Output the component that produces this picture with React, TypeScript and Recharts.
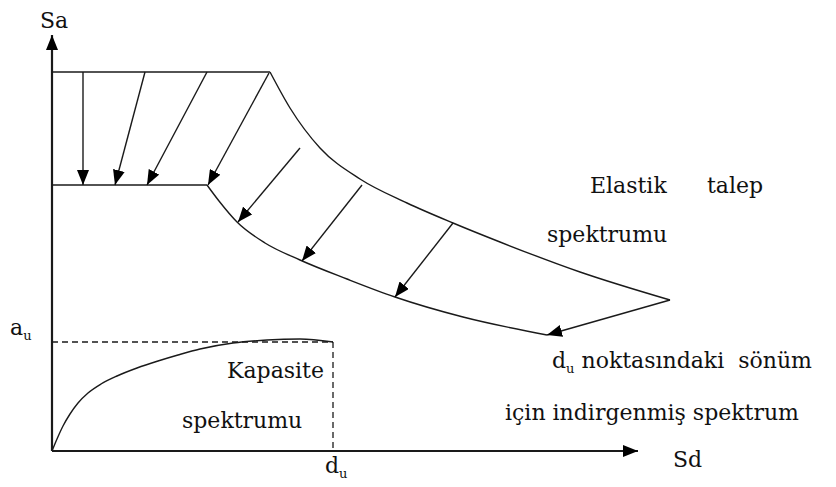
import React from "react";
import { LineChart, Line, XAxis, YAxis, ReferenceDot } from "recharts";

// ---- data (Sd, Sa in arbitrary units) ----
const elasticPlateauSd = [0, 2.18];
const elasticPlateauSa = [3.79, 3.79];
const elasticSd = [2.18, 2.38, 2.68, 3.08, 3.55, 4.01, 4.48, 5.28, 6.18];
const elasticSa = [3.79, 3.43, 3.03, 2.72, 2.48, 2.28, 2.09, 1.79, 1.51];

const reducedPlateauSd = [0, 1.55];
const reducedPlateauSa = [2.66, 2.66];
const reducedSd = [1.55, 1.67, 1.85, 2.13, 2.48, 2.95, 3.43, 4.11, 4.95];
const reducedSa = [2.66, 2.5, 2.29, 2.08, 1.91, 1.72, 1.54, 1.34, 1.16];

const capacitySd = [0, 0.05, 0.11, 0.18, 0.26, 0.36, 0.49, 0.65, 0.85, 1.06, 1.26, 1.48, 1.81, 2.15, 2.48, 2.81];
const capacitySa = [0, 0.12, 0.25, 0.37, 0.48, 0.58, 0.67, 0.75, 0.83, 0.9, 0.96, 1.02, 1.08, 1.11, 1.12, 1.09];

const du = 2.81;
const au = 1.09;

const arrowFromSd = [0.31, 0.93, 1.55, 2.17, 2.48, 3.1, 4.01, 6.18];
const arrowFromSa = [3.79, 3.79, 3.79, 3.78, 3.03, 2.66, 2.28, 1.51];
const arrowToSd = [0.31, 0.63, 0.95, 1.56, 1.86, 2.5, 3.43, 4.95];
const arrowToSa = [2.66, 2.66, 2.66, 2.66, 2.29, 1.9, 1.54, 1.16];

const axisEndSd = 5.86;
const axisEndSa = 4.16;

const X_DOMAIN: [number, number] = [-0.52, 7.84];
const Y_DOMAIN: [number, number] = [-0.36, 4.51];

const pts = (xs: number[], ys: number[]) => xs.map((x, i) => ({ x, y: ys[i] }));

const INK = "#1a1a1a";
const FONT = "DejaVu Serif";
const FS = 22;

type Lbl = { sd: number; sa: number; text: string; sub?: string; rest?: string };
const labels: Lbl[] = [
  { sd: -0.12, sa: 4.23, text: "Sa" },
  { sd: 5.38, sa: 2.58, text: "Elastik" },
  { sd: 6.55, sa: 2.58, text: "talep" },
  { sd: 4.95, sa: 2.09, text: "spektrumu" },
  { sd: 1.75, sa: 0.73, text: "Kapasite" },
  { sd: 1.3, sa: 0.23, text: "spektrumu" },
  { sd: -0.42, sa: 1.16, text: "a", sub: "u" },
  { sd: 2.73, sa: -0.22, text: "d", sub: "u" },
  { sd: 5.0, sa: 0.83, text: "d", sub: "u", rest: " noktasındaki  sönüm" },
  { sd: 4.53, sa: 0.31, text: "için indirgenmiş spektrum" },
  { sd: 6.21, sa: -0.16, text: "Sd" },
];

const lineProps = {
  dataKey: "y",
  stroke: INK,
  strokeWidth: 1.4,
  dot: false,
  activeDot: false,
  isAnimationActive: false,
  legendType: "none" as const,
};

export default function App() {
  return (
    <div style={{ position: "absolute", left: 0, top: 0, background: "#fff" }}>
      <LineChart width={836} height={487} margin={{ top: 0, right: 0, bottom: 0, left: 0 }}>
        <defs>
          <marker
            id="ah"
            viewBox="0 0 15 12"
            refX="15"
            refY="6"
            markerWidth="15"
            markerHeight="12"
            orient="auto"
            markerUnits="userSpaceOnUse"
          >
            <path d="M0,0 L15,6 L0,12 z" fill="#000" />
          </marker>
        </defs>
        <XAxis type="number" dataKey="x" domain={X_DOMAIN} hide allowDataOverflow />
        <YAxis type="number" domain={Y_DOMAIN} hide allowDataOverflow />

        {/* axes */}
        <Line {...lineProps} data={pts([0, 0], [0, axisEndSa])} type="linear" strokeWidth={2.2} markerEnd="url(#ah)" />
        <Line {...lineProps} data={pts([0, axisEndSd], [0, 0])} type="linear" strokeWidth={2.2} markerEnd="url(#ah)" />

        {/* elastic demand spectrum */}
        <Line {...lineProps} data={pts(elasticPlateauSd, elasticPlateauSa)} type="linear" />
        <Line {...lineProps} data={pts(elasticSd, elasticSa)} type="monotoneX" />

        {/* reduced spectrum */}
        <Line {...lineProps} data={pts(reducedPlateauSd, reducedPlateauSa)} type="linear" />
        <Line {...lineProps} data={pts(reducedSd, reducedSa)} type="monotoneX" />

        {/* capacity spectrum */}
        <Line {...lineProps} data={pts(capacitySd, capacitySa)} type="monotoneX" />

        {/* dashed au / du */}
        <Line {...lineProps} data={pts([0, du], [au, au])} type="linear" strokeDasharray="6 4" strokeWidth={1.3} />
        <Line {...lineProps} data={pts([du, du], [au, 0])} type="linear" strokeDasharray="6 4" strokeWidth={1.3} />

        {/* arrows */}
        {arrowFromSd.map((_, i) => (
          <Line
            key={"a" + i}
            {...lineProps}
            data={pts([arrowFromSd[i], arrowToSd[i]], [arrowFromSa[i], arrowToSa[i]])}
            type="linear"
            markerEnd="url(#ah)"
          />
        ))}

        {/* labels */}
        {labels.map((l, i) => (
          <ReferenceDot
            key={"l" + i}
            x={l.sd}
            y={l.sa}
            r={0}
            isFront
            shape={(p: any) => (
              <text
                x={p.cx}
                y={p.cy}
                fontFamily={FONT}
                fontSize={FS}
                fill="#111"
                style={{ whiteSpace: "pre" }}
              >
                {l.text}
                {l.sub ? (
                  <tspan fontSize={13} dy={5}>
                    {l.sub}
                  </tspan>
                ) : null}
                {l.rest ? (
                  <tspan dy={-5} fontSize={FS}>
                    {l.rest}
                  </tspan>
                ) : null}
              </text>
            )}
          />
        ))}
      </LineChart>
    </div>
  );
}
